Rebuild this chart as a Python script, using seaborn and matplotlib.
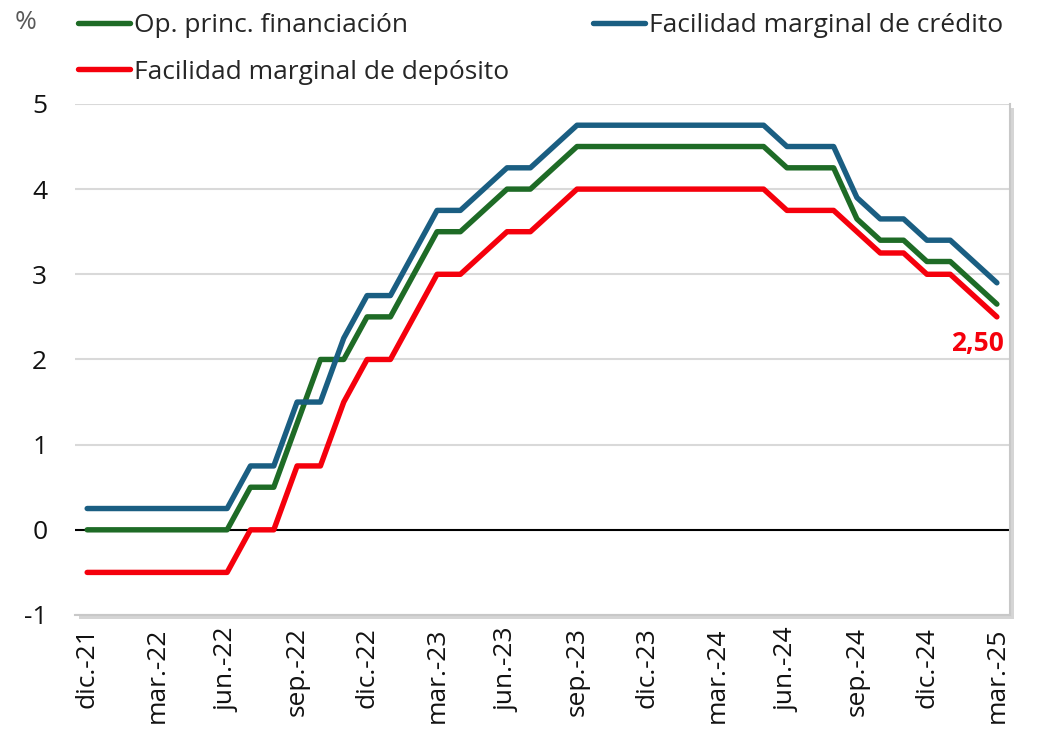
import numpy as np
import pandas as pd
import matplotlib
matplotlib.use("Agg")
import matplotlib.pyplot as plt
import matplotlib.patheffects as pe
import seaborn as sns

months = ["dic.-21", "ene.-22", "feb.-22", "mar.-22", "abr.-22", "may.-22", "jun.-22",
          "jul.-22", "ago.-22", "sep.-22", "oct.-22", "nov.-22", "dic.-22",
          "ene.-23", "feb.-23", "mar.-23", "abr.-23", "may.-23", "jun.-23",
          "jul.-23", "ago.-23", "sep.-23", "oct.-23", "nov.-23", "dic.-23",
          "ene.-24", "feb.-24", "mar.-24", "abr.-24", "may.-24", "jun.-24",
          "jul.-24", "ago.-24", "sep.-24", "oct.-24", "nov.-24", "dic.-24",
          "ene.-25", "feb.-25", "mar.-25"]

mro = [0, 0, 0, 0, 0, 0, 0,
       0.5, 0.5, 1.25, 2.0, 2.0, 2.5,
       2.5, 3.0, 3.5, 3.5, 3.75, 4.0,
       4.0, 4.25, 4.5, 4.5, 4.5, 4.5,
       4.5, 4.5, 4.5, 4.5, 4.5, 4.25,
       4.25, 4.25, 3.65, 3.4, 3.4, 3.15,
       3.15, 2.9, 2.65]

mlf = [0.25, 0.25, 0.25, 0.25, 0.25, 0.25, 0.25,
       0.75, 0.75, 1.5, 1.5, 2.25, 2.75,
       2.75, 3.25, 3.75, 3.75, 4.0, 4.25,
       4.25, 4.5, 4.75, 4.75, 4.75, 4.75,
       4.75, 4.75, 4.75, 4.75, 4.75, 4.5,
       4.5, 4.5, 3.9, 3.65, 3.65, 3.4,
       3.4, 3.15, 2.9]

df_rate = [-0.5, -0.5, -0.5, -0.5, -0.5, -0.5, -0.5,
           0.0, 0.0, 0.75, 0.75, 1.5, 2.0,
           2.0, 2.5, 3.0, 3.0, 3.25, 3.5,
           3.5, 3.75, 4.0, 4.0, 4.0, 4.0,
           4.0, 4.0, 4.0, 4.0, 4.0, 3.75,
           3.75, 3.75, 3.5, 3.25, 3.25, 3.0,
           3.0, 2.75, 2.5]

series_names = ["Op. princ. financiación", "Facilidad marginal de depósito",
                "Facilidad marginal de crédito"]
colors = {"Op. princ. financiación": "#1e6b26",
          "Facilidad marginal de crédito": "#1a5e82",
          "Facilidad marginal de depósito": "#f5000c"}

yticks = [-1, 0, 1, 2, 3, 4, 5]
last_label = "2,50"

idx = np.arange(len(months))
data = pd.DataFrame({
    "x": np.concatenate([idx, idx, idx]),
    "valor": np.concatenate([mro, df_rate, mlf]),
    "serie": [series_names[0]] * len(idx) + [series_names[1]] * len(idx) + [series_names[2]] * len(idx),
})

sns.set_theme(style="white")
plt.rcParams["font.family"] = ["Open Sans", "DejaVu Sans"]

FS = 19
LW = 3.9

fig = plt.figure(figsize=(10.48, 7.45), dpi=100)
ax = fig.add_axes([0.0716, 0.1745, 0.8921, 0.686])

sns.lineplot(data=data, x="x", y="valor", hue="serie", hue_order=series_names,
             palette=colors, linewidth=LW, ax=ax, legend=False, zorder=3,
             solid_capstyle="round")

ax.set_xlim(-0.52, 39.56)
ax.set_ylim(-1, 5)
ax.set_yticks(yticks)
ax.set_yticklabels([str(v) for v in yticks])
ax.set_xticks(idx[::3])
ax.set_xticklabels(months[::3], rotation=90)
ax.tick_params(axis="both", length=0, labelsize=FS, colors="#111111")
ax.tick_params(axis="y", pad=20)
ax.tick_params(axis="x", pad=9)
ax.set_xlabel("")
ax.set_ylabel("")

for v in yticks:
    if v != 0:
        ax.axhline(v, color="#d9d9d9", linewidth=1.5, zorder=1)
ax.axhline(0, color="black", linewidth=1.5, zorder=2)

for s in ["top", "left"]:
    ax.spines[s].set_visible(False)
for s in ["right", "bottom"]:
    ax.spines[s].set_color("#c8c8c8")
    ax.spines[s].set_linewidth(1.5)
ax.patch.set_path_effects([pe.SimplePatchShadow(offset=(3, -3), shadow_rgbFace="#888888", alpha=0.35),
                           pe.Normal()])

ax.annotate(last_label, xy=(idx[-1], df_rate[-1]), xytext=(-14, -19),
            textcoords="offset points", color="#f5000c", fontsize=FS,
            fontweight="bold", ha="center", va="center")

handles = [plt.Line2D([0], [0], color=colors[n], linewidth=LW, solid_capstyle="round")
           for n in series_names]
fig.legend(handles, series_names, ncol=2, loc="upper left",
           bbox_to_anchor=(0.0645, 0.997), frameon=False, fontsize=FS,
           handlelength=1.95, handletextpad=0.15, columnspacing=3.2,
           labelspacing=0.83, borderaxespad=0)

fig.text(0.014, 0.970, "%", fontsize=FS, color="#595959", ha="left", va="center")

fig.savefig("out.png", dpi=100)
